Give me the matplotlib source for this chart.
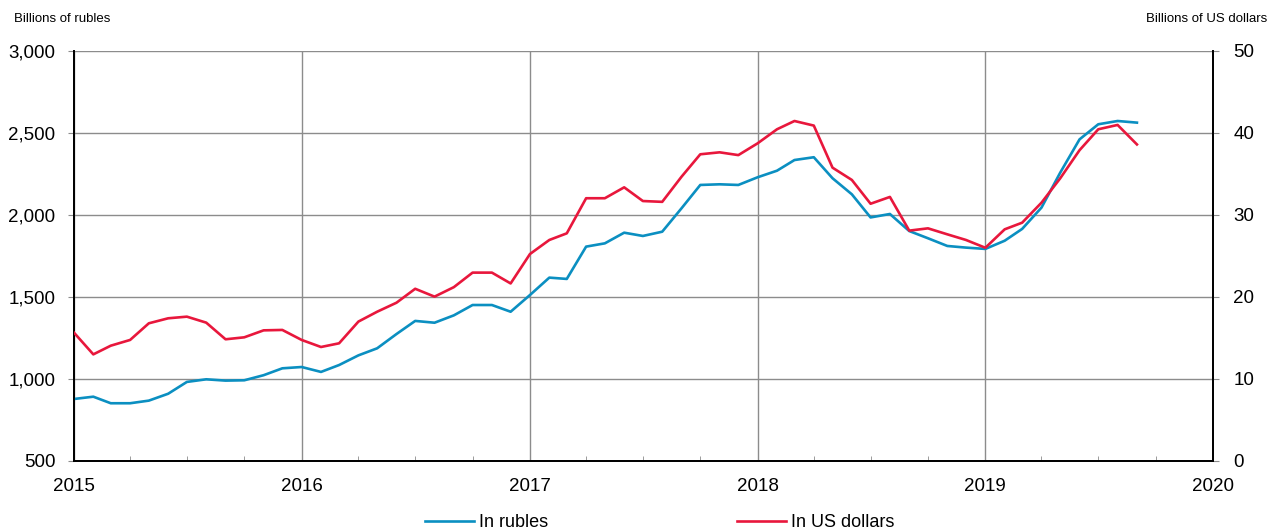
import matplotlib
matplotlib.use("Agg")
import matplotlib.pyplot as plt
import matplotlib.dates as mdates
from matplotlib.ticker import FuncFormatter, MultipleLocator
import pandas as pd
import datetime as dt

plt.rcParams['font.family'] = ['Liberation Sans', 'DejaVu Sans']

# monthly, Jan 2015 .. Sep 2019
months = pd.date_range('2015-01-01', periods=57, freq='MS')

rubles = [878, 892, 852, 852, 868, 910, 982, 998, 990, 992, 1023, 1065,
          1073, 1043, 1085, 1144, 1187, 1274, 1354, 1343, 1388, 1451, 1451, 1410,
          1512, 1618, 1610, 1807, 1827, 1892, 1872, 1898, 2041, 2183, 2187, 2183,
          2230, 2270, 2335, 2352, 2224, 2126, 1985, 2006, 1902, 1858, 1811, 1801,
          1793, 1843, 1915, 2045, 2258, 2461, 2553, 2573, 2563]

dollars = [15.65, 13.0, 14.06, 14.76, 16.79, 17.4, 17.6, 16.87, 14.84, 15.08, 15.93, 15.98,
           14.76, 13.9, 14.35, 17.0, 18.2, 19.3, 21.0, 20.04, 21.2, 22.97, 22.97, 21.65,
           25.24, 26.95, 27.76, 32.04, 32.04, 33.37, 31.7, 31.6, 34.67, 37.4, 37.64, 37.3,
           38.74, 40.45, 41.46, 40.9, 35.77, 34.27, 31.37, 32.2, 28.09, 28.37, 27.64, 26.95,
           26.0, 28.25, 29.06, 31.5, 34.47, 37.9, 40.45, 40.98, 38.6]

blue = '#0B8FC1'
red = '#E8173C'
grid_c = '#8C8C8C'

fig = plt.figure(figsize=(12.71, 5.32), dpi=100)
ax = fig.add_axes([0.0582, 0.1335, 0.8962, 0.7707])
ax2 = ax.twinx()

l1, = ax.plot(months, rubles, color=blue, lw=1.9, label='In rubles', zorder=3)
l2, = ax2.plot(months, dollars, color=red, lw=1.9, label='In US dollars', zorder=3)

ax.set_xlim(dt.date(2015, 1, 1), dt.date(2020, 1, 1))
ax.set_ylim(500, 3000)
ax2.set_ylim(0, 50)
ax.yaxis.set_major_locator(MultipleLocator(500))
ax2.yaxis.set_major_locator(MultipleLocator(10))
ax.yaxis.set_major_formatter(FuncFormatter(lambda v, p: f'{v:,.0f}'))

ax.xaxis.set_major_locator(mdates.YearLocator())
ax.xaxis.set_major_formatter(mdates.DateFormatter('%Y'))
ax.xaxis.set_minor_locator(mdates.MonthLocator(bymonth=[4, 7, 10]))

ax.grid(True, which='major', color=grid_c, lw=1.0)
ax.set_axisbelow(True)

for a in (ax, ax2):
    a.spines['top'].set_visible(False)
    a.spines['left'].set_linewidth(1.3)
    a.spines['right'].set_linewidth(1.3)
    a.spines['bottom'].set_linewidth(1.3)

ax.tick_params(axis='y', direction='out', length=4.5, color=grid_c, labelsize=13.5, pad=9)
ax2.tick_params(axis='y', direction='out', length=4.5, color=grid_c, labelsize=13.5, pad=10)
ax.tick_params(axis='x', which='major', length=0, labelsize=13.5, pad=12)
ax.tick_params(axis='x', which='minor', direction='in', length=3.6, color=grid_c)

fig.text(0.011, 0.965, 'Billions of rubles', fontsize=9.5, va='center', ha='left')
fig.text(0.997, 0.965, 'Billions of US dollars', fontsize=9.5, va='center', ha='right')

fig.legend(handles=[l1, l2], loc='center', bbox_to_anchor=(0.519, 0.018), ncol=2,
           frameon=False, fontsize=13, columnspacing=10.5, handlelength=2.7,
           handletextpad=0.25)

fig.savefig('out.png', dpi=100)
